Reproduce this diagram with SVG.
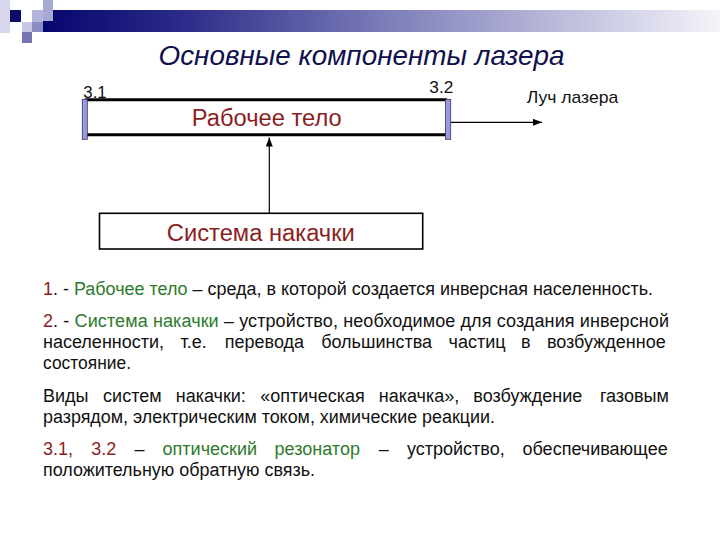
<svg xmlns="http://www.w3.org/2000/svg" width="720" height="540" viewBox="0 0 720 540">
<defs>
<linearGradient id="bar" x1="0" y1="0" x2="1" y2="0">
<stop offset="0" stop-color="#05056e"/>
<stop offset="0.2" stop-color="#2a2a88"/>
<stop offset="0.5" stop-color="#7b7bb8"/>
<stop offset="0.8" stop-color="#c4c4e0"/>
<stop offset="1" stop-color="#f4f4fa"/>
</linearGradient>
<marker id="arr" markerWidth="9" markerHeight="7" refX="9" refY="3.5" orient="auto" markerUnits="userSpaceOnUse">
<path d="M0,0 L9,3.5 L0,7 z" fill="#000"/>
</marker>
<style>
.t{font-family:"Liberation Sans",Arial,sans-serif}
.body{font-family:"Liberation Sans",Arial,sans-serif;font-size:18px;fill:#111}
.red{fill:#8b1e1e}
.grn{fill:#2d7a2d}
.lbl{font-family:"Liberation Sans",Arial,sans-serif;font-size:17px;fill:#111}
.mirror{fill:#9a9ade;stroke:#333366;stroke-width:0.8}
.conn{stroke:#000;stroke-width:1.2;fill:none}
</style>
</defs>
<rect width="720" height="540" fill="#fff"/>
<g id="decor">
<rect x="0" y="0" width="10" height="33" fill="#d8d8ec"/>
<rect x="43" y="10" width="677" height="22" fill="url(#bar)"/>
<rect x="10" y="10" width="11" height="12" fill="#0c0c6c"/>
<rect x="22" y="22" width="10" height="10" fill="#c8c8e4"/>
<rect x="22" y="32" width="10" height="11" fill="#7474b4"/>
<rect x="32" y="10" width="11" height="12" fill="#b4b4da"/>
<rect x="32" y="22" width="11" height="10" fill="#8c8cc4"/>
<rect x="43" y="0" width="10" height="21" fill="#a8a8d4"/>
</g>
<text id="title" class="t" x="361.5" y="65" font-size="28" font-style="italic" fill="#10104e" text-anchor="middle" textLength="406" lengthAdjust="spacingAndGlyphs">Основные компоненты лазера</text>
<g id="connectors">
<line class="conn" x1="269.3" y1="213" x2="269.3" y2="137.5" marker-end="url(#arr)"/>
<line class="conn" x1="451" y1="122.3" x2="542" y2="122.3" marker-end="url(#arr)"/>
</g>
<g id="active-medium">
<line x1="85" y1="99.7" x2="447" y2="99.7" stroke="#000" stroke-width="3"/>
<line x1="85" y1="134.7" x2="447" y2="134.7" stroke="#000" stroke-width="3"/>
<text class="t" x="266.7" y="125.5" font-size="23" fill="#8b1e1e" text-anchor="middle" textLength="150" lengthAdjust="spacingAndGlyphs">Рабочее тело</text>
</g>
<g id="mirror-3-1">
<rect class="mirror" x="82.3" y="99.3" width="5" height="40"/>
<text class="lbl" x="83.3" y="98" textLength="23.4" lengthAdjust="spacingAndGlyphs">3.1</text>
</g>
<g id="mirror-3-2">
<rect class="mirror" x="445.5" y="99.3" width="5.2" height="40"/>
<text class="lbl" x="429.3" y="92.7" textLength="24" lengthAdjust="spacingAndGlyphs">3.2</text>
</g>
<g id="laser-beam">
<text class="lbl" x="526.7" y="103.3" textLength="91.6" lengthAdjust="spacingAndGlyphs">Луч лазера</text>
</g>
<g id="pump-system">
<rect x="99.5" y="213.3" width="323.2" height="35.7" fill="#fff" stroke="#000" stroke-width="1.6"/>
<text class="t" x="260.8" y="241" font-size="23" fill="#8b1e1e" text-anchor="middle" textLength="188" lengthAdjust="spacingAndGlyphs">Система накачки</text>
</g>
<g id="notes">
<text class="body" x="43" y="295" textLength="610" lengthAdjust="spacingAndGlyphs"><tspan class="red">1</tspan>. - <tspan class="grn">Рабочее тело</tspan> – среда, в которой создается инверсная населенность.</text>
<text class="body" x="43" y="327" textLength="626" lengthAdjust="spacing"><tspan class="red">2</tspan>. - <tspan class="grn">Система накачки</tspan> – устройство, необходимое для создания инверсной</text>
<text class="body" y="348"><tspan x="43">населенности,</tspan><tspan x="180.4">т.е.</tspan><tspan x="224.8">перевода</tspan><tspan x="321.2">большинства</tspan><tspan x="448.6">частиц</tspan><tspan x="521">в</tspan><tspan x="546.9">возбужденное</tspan></text>
<text class="body" x="43" y="369" textLength="88" lengthAdjust="spacingAndGlyphs">состояние.</text>
<text class="body" y="402"><tspan x="43">Виды</tspan><tspan x="103.1">систем</tspan><tspan x="175.7">накачки:</tspan><tspan x="260.3">«оптическая</tspan><tspan x="378.7">накачка»,</tspan><tspan x="473.3">возбуждение</tspan><tspan x="599.9">газовым</tspan></text>
<text class="body" x="43" y="423" textLength="452" lengthAdjust="spacingAndGlyphs">разрядом, электрическим током, химические реакции.</text>
<text class="body" y="455"><tspan x="43" class="red">3.1,</tspan><tspan x="91.2" class="red">3.2</tspan><tspan x="134.4">–</tspan><tspan x="162.6" class="grn">оптический</tspan><tspan x="274.6" class="grn">резонатор</tspan><tspan x="378.8">–</tspan><tspan x="407">устройство,</tspan><tspan x="522.5">обеспечивающее</tspan></text>
<text class="body" x="43" y="476" textLength="272" lengthAdjust="spacingAndGlyphs">положительную обратную связь.</text>
</g>
</svg>
